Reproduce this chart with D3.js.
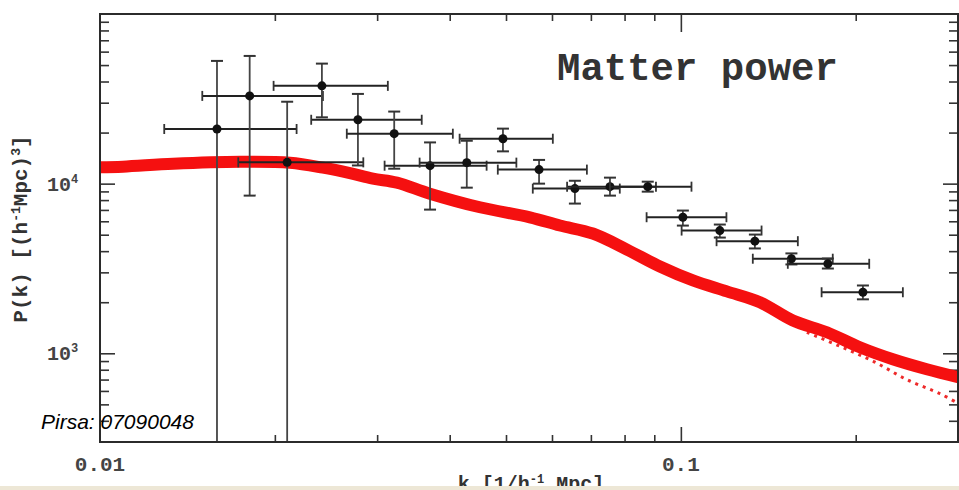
<!DOCTYPE html>
<html>
<head>
<meta charset="utf-8">
<script src="https://cdn.jsdelivr.net/npm/d3@7"></script>
<style>
  body { margin: 0; background: #fff; }
  svg { display: block; }
</style>
</head>
<body>
<svg id="chart" width="959" height="490"></svg>
<script>
// theory curve (thick red) and the dotted non-linear branch
var kTheory = [0.0100, 0.01095, 0.01336, 0.01742, 0.02123, 0.0242, 0.02693, 0.0295, 0.03244, 0.03698,
               0.04509, 0.05496, 0.06191, 0.07055, 0.08074, 0.09204, 0.1049, 0.1200, 0.1368, 0.1559,
               0.1784, 0.2033, 0.2317, 0.2651, 0.300];
var pTheory = [12500, 12590, 13110, 13470, 13290, 12420, 11530, 10700, 10140, 8730,
               7256, 6333, 5662, 5081, 4090, 3249, 2688, 2316, 2000, 1560,
               1330, 1085, 922, 805, 723];
var kDotted = [0.1648, 0.1878, 0.2141, 0.2449, 0.2792, 0.300];
var pDotted = [1330, 1100, 900, 700, 578, 508];

// measured band powers with error bars
var kData  = [0.0159, 0.0181, 0.0210, 0.0241, 0.0278, 0.0321, 0.0370, 0.0428, 0.0494, 0.0570,
              0.0657, 0.0755, 0.0877, 0.1008, 0.1167, 0.1341, 0.1550, 0.1791, 0.2058];
var pData  = [21000, 32900, 13350, 37700, 23800, 19700, 12760, 13300, 18400, 12100,
              9350, 9600, 9600, 6340, 5290, 4580, 3610, 3370, 2290];
var kLow   = [0.0129, 0.0150, 0.0173, 0.0199, 0.0231, 0.0266, 0.0309, 0.0355, 0.0416, 0.0484,
              0.0556, 0.0637, 0.0755, 0.0873, 0.1003, 0.1152, 0.1330, 0.1528, 0.1747];
var kHigh  = [0.0218, 0.0242, 0.0284, 0.0313, 0.0358, 0.0405, 0.0463, 0.0521, 0.0602, 0.0689,
              0.0785, 0.0906, 0.1043, 0.1198, 0.1377, 0.1590, 0.1826, 0.2110, 0.2411];
var pLow   = [150, 8500, 150, 24600, 12800, 12250, 7030, 9470, 15500, 10000,
              7630, 8500, 8970, 5660, 4810, 4150, 3340, 3160, 2080];
var pHigh  = [52900, 56600, 30400, 51000, 33800, 26600, 17500, 17900, 21100, 13800,
              10400, 10850, 10270, 6940, 5740, 5010, 3880, 3620, 2510];

// ticks
var xMinorTicks = [0.02, 0.03, 0.04, 0.05, 0.06, 0.07, 0.08, 0.09, 0.2];
var xMajorTicks = [0.1];
var yMinorTicks = [400, 500, 600, 700, 800, 900, 2000, 3000, 4000, 5000, 6000, 7000, 8000, 9000,
                   20000, 30000, 40000, 50000, 60000, 70000, 80000, 90000];
var yMajorTicks = [1000, 10000];
var xTickLabels = ["0.01", "0.1"];
var xTickLabelValues = [0.01, 0.1];
var yTickExps = ["3", "4"];

var svg = d3.select("#chart");
var box = {left: 100, right: 958, top: 14, bottom: 442};

var x = d3.scaleLog().domain([0.01, 0.3]).range([box.left, box.right]);
var y = d3.scaleLog().domain([300, 1e5]).range([box.bottom, box.top]);

svg.append("defs").append("clipPath").attr("id", "plotClip")
   .append("rect")
   .attr("x", box.left).attr("y", box.top)
   .attr("width", box.right - box.left).attr("height", box.bottom - box.top);

// inward ticks on all four sides
function drawTicks(axisFn, scale, values, size, transform){
  svg.append("g")
     .attr("transform", transform)
     .call(axisFn(scale).tickValues(values).tickSize(size).tickFormat(""))
     .call(function(g){ g.select(".domain").remove(); })
     .selectAll("line")
     .attr("stroke", "#333")
     .attr("stroke-width", 1.6);
}
drawTicks(d3.axisBottom, x, xMinorTicks, 7, "translate(0," + box.top + ")");
drawTicks(d3.axisBottom, x, xMajorTicks, 18, "translate(0," + box.top + ")");
drawTicks(d3.axisTop, x, xMinorTicks, 7, "translate(0," + box.bottom + ")");
drawTicks(d3.axisTop, x, xMajorTicks, 15, "translate(0," + box.bottom + ")");
drawTicks(d3.axisRight, y, yMinorTicks, 9, "translate(" + box.left + ",0)");
drawTicks(d3.axisRight, y, yMajorTicks, 15, "translate(" + box.left + ",0)");
drawTicks(d3.axisLeft, y, yMinorTicks, 9, "translate(" + box.right + ",0)");
drawTicks(d3.axisLeft, y, yMajorTicks, 15, "translate(" + box.right + ",0)");

var plot = svg.append("g").attr("clip-path", "url(#plotClip)");

// theory curve
var line = d3.line()
  .curve(d3.curveCatmullRom)
  .x(function(d){ return x(d[0]); })
  .y(function(d){ return y(d[1]); });

plot.append("path")
    .attr("d", line(d3.zip(kDotted, pDotted)))
    .attr("fill", "none")
    .attr("stroke", "#ee2a2a")
    .attr("stroke-width", 3)
    .attr("stroke-dasharray", "3,5");

plot.append("path")
    .attr("d", line(d3.zip(kTheory, pTheory)))
    .attr("fill", "none")
    .attr("stroke", "#f51010")
    .attr("stroke-width", 12)
    .attr("stroke-linecap", "round");

// error bars
var points = kData.map(function(k, i){
  return { k: k, p: pData[i], kLo: kLow[i], kHi: kHigh[i], pLo: pLow[i], pHi: pHigh[i] };
});

var bars = plot.selectAll(".bar")
  .data(points)
  .enter().append("g")
  .attr("class", "bar");

bars.append("line")
    .attr("x1", function(d){ return x(d.k); })
    .attr("x2", function(d){ return x(d.k); })
    .attr("y1", function(d){ return y(d.pLo); })
    .attr("y2", function(d){ return y(d.pHi); })
    .attr("stroke", "#444").attr("stroke-width", 1.8);

bars.append("line")
    .attr("x1", function(d){ return x(d.k) - 6; })
    .attr("x2", function(d){ return x(d.k) + 6; })
    .attr("y1", function(d){ return y(d.pHi); })
    .attr("y2", function(d){ return y(d.pHi); })
    .attr("stroke", "#333").attr("stroke-width", 2);

bars.filter(function(d){ return d.pLo > 300; })
    .append("line")
    .attr("x1", function(d){ return x(d.k) - 6; })
    .attr("x2", function(d){ return x(d.k) + 6; })
    .attr("y1", function(d){ return y(d.pLo); })
    .attr("y2", function(d){ return y(d.pLo); })
    .attr("stroke", "#333").attr("stroke-width", 2);

bars.append("line")
    .attr("x1", function(d){ return x(d.kLo); })
    .attr("x2", function(d){ return x(d.kHi); })
    .attr("y1", function(d){ return y(d.p); })
    .attr("y2", function(d){ return y(d.p); })
    .attr("stroke", "#222").attr("stroke-width", 2);

bars.append("line")
    .attr("x1", function(d){ return x(d.kLo); })
    .attr("x2", function(d){ return x(d.kLo); })
    .attr("y1", function(d){ return y(d.p) - 5; })
    .attr("y2", function(d){ return y(d.p) + 5; })
    .attr("stroke", "#333").attr("stroke-width", 1.8);

bars.append("line")
    .attr("x1", function(d){ return x(d.kHi); })
    .attr("x2", function(d){ return x(d.kHi); })
    .attr("y1", function(d){ return y(d.p) - 5; })
    .attr("y2", function(d){ return y(d.p) + 5; })
    .attr("stroke", "#333").attr("stroke-width", 1.8);

bars.append("circle")
    .attr("cx", function(d){ return x(d.k); })
    .attr("cy", function(d){ return y(d.p); })
    .attr("r", 4.5)
    .attr("fill", "#111");

// frame
svg.append("rect")
   .attr("x", box.left).attr("y", box.top)
   .attr("width", box.right - box.left).attr("height", box.bottom - box.top)
   .attr("fill", "none")
   .attr("stroke", "#2b2b2b")
   .attr("stroke-width", 2);

var mono = "'Liberation Mono', 'Courier New', 'DejaVu Sans Mono', monospace";

// x tick labels
svg.selectAll(".xlab")
   .data(xTickLabelValues)
   .enter().append("text")
   .attr("class", "xlab")
   .attr("x", function(d){ return x(d); })
   .attr("y", 471)
   .attr("text-anchor", "middle")
   .style("font", "bold 21px " + mono)
   .attr("fill", "#444")
   .text(function(d, i){ return xTickLabels[i]; });

// y tick labels 10^3, 10^4
var ylab = svg.selectAll(".ylab")
   .data(yMajorTicks)
   .enter().append("text")
   .attr("class", "ylab")
   .attr("x", 47)
   .attr("y", function(d){ return y(d) + 7; })
   .style("font", "bold 20px " + mono)
   .attr("fill", "#444");
ylab.append("tspan").text("10");
ylab.append("tspan")
    .attr("dy", -8)
    .style("font-size", "12px")
    .text(function(d, i){ return yTickExps[i]; });

// y axis title
var ytitle = svg.append("text")
   .attr("transform", "translate(27,229) rotate(-90)")
   .attr("text-anchor", "middle")
   .style("font", "bold 21px " + mono)
   .attr("fill", "#333");
ytitle.append("tspan").text("P(k) [(h");
ytitle.append("tspan").attr("dy", -7).style("font-size", "13px").text("-1");
ytitle.append("tspan").attr("dy", 7).text("Mpc)");
ytitle.append("tspan").attr("dy", -7).style("font-size", "13px").text("3");
ytitle.append("tspan").attr("dy", 7).text("]");

// x axis title (cut by the page edge, as in the source image)
var xtitle = svg.append("text")
   .attr("x", 531).attr("y", 490)
   .attr("text-anchor", "middle")
   .style("font", "bold 20px " + mono)
   .attr("fill", "#333");
xtitle.append("tspan").text("k [1/h");
xtitle.append("tspan").attr("dy", -7).style("font-size", "12px").text("-1");
xtitle.append("tspan").attr("dy", 7).text(" Mpc]");

svg.append("rect")
   .attr("x", 0).attr("y", 486)
   .attr("width", 959).attr("height", 4)
   .attr("fill", "#ede7d6");

// title
svg.append("text")
   .attr("x", 557).attr("y", 80)
   .style("font", "bold 39px " + mono)
   .attr("fill", "#333")
   .text("Matter power");

// watermark
svg.append("text")
   .attr("x", 41).attr("y", 429)
   .style("font", "italic 21px 'Liberation Sans', Arial, sans-serif")
   .attr("fill", "#000")
   .text("Pirsa: 07090048");
</script>
</body>
</html>
